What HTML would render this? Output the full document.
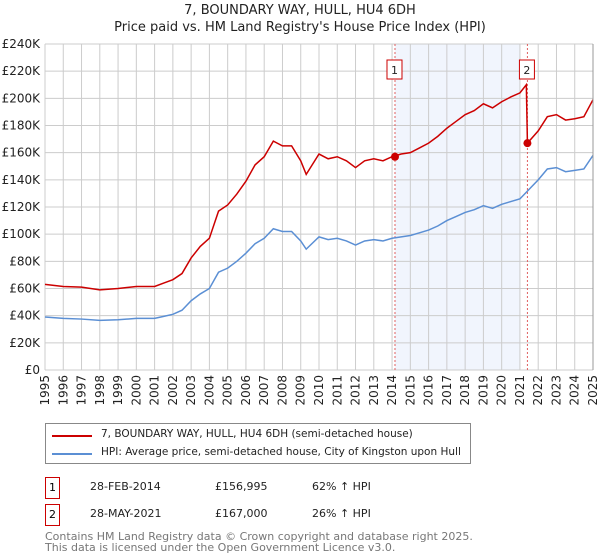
<!DOCTYPE html>
<html><head><meta charset="utf-8"><style>
body{margin:0;background:#fff;font-family:"DejaVu Sans","Liberation Sans",sans-serif;}
.t{position:absolute;font-size:12px;color:#222;white-space:nowrap}
</style></head><body>
<div style="position:relative;width:600px;height:560px;overflow:hidden">
<div class="t" style="left:0;width:600px;text-align:center;top:2px;font-size:13px;line-height:17px">7, BOUNDARY WAY, HULL, HU4 6DH<br>Price paid vs. HM Land Registry's House Price Index (HPI)</div>
<svg id="c" width="600" height="420" style="position:absolute;left:0;top:0"></svg>
<div style="position:absolute;left:45px;top:423px;width:424px;height:39px;border:1px solid #888">
 <div style="position:absolute;left:6px;top:11px;width:40px;height:2px;background:#cc0000"></div>
 <div class="t" style="left:55px;top:4px;font-size:10.5px">7, BOUNDARY WAY, HULL, HU4 6DH (semi-detached house)</div>
 <div style="position:absolute;left:6px;top:29px;width:40px;height:2px;background:#5b8fd4"></div>
 <div class="t" style="left:55px;top:22px;font-size:10.5px">HPI: Average price, semi-detached house, City of Kingston upon Hull</div>
</div>
<div style="position:absolute;left:45px;top:477px;width:13px;height:20px;border:1px solid #cc0000;font-size:11px;text-align:center;line-height:20px">1</div>
<div class="t" style="left:90px;top:480px;font-size:11px">28-FEB-2014</div>
<div class="t" style="left:215px;top:480px;font-size:11px">£156,995</div>
<div class="t" style="left:312px;top:480px;font-size:11px">62% ↑ HPI</div>
<div style="position:absolute;left:45px;top:504px;width:13px;height:20px;border:1px solid #cc0000;font-size:11px;text-align:center;line-height:20px">2</div>
<div class="t" style="left:90px;top:507px;font-size:11px">28-MAY-2021</div>
<div class="t" style="left:215px;top:507px;font-size:11px">£167,000</div>
<div class="t" style="left:312px;top:507px;font-size:11px">26% ↑ HPI</div>
<div class="t" style="left:45px;top:531px;font-size:11px;color:#777;line-height:11px">Contains HM Land Registry data © Crown copyright and database right 2025.<br>This data is licensed under the Open Government Licence v3.0.</div>
</div>
<script>
const hpiYears=[1995,1996,1997,1998,1999,2000,2001,2001.5,2002,2002.5,2003,2003.5,2004,2004.5,2005,2005.5,2006,2006.5,2007,2007.5,2008,2008.5,2009,2009.3,2010,2010.5,2011,2011.5,2012,2012.5,2013,2013.5,2014,2014.5,2015,2015.5,2016,2016.5,2017,2017.5,2018,2018.5,2019,2019.5,2020,2020.5,2021,2021.5,2022,2022.5,2023,2023.5,2024,2024.5,2025];
const hpiValues=[39,38,37.5,36.5,37,38,38,39.5,41,44,51,56,60,72,75,80,86,93,97,104,102,102,95,89,98,96,97,95,92,95,96,95,97,98,99,101,103,106,110,113,116,118,121,119,122,124,126,133,140,148,149,146,147,148,158];
const priceYears=[1995,1996,1997,1998,1999,2000,2001,2001.5,2002,2002.5,2003,2003.5,2004,2004.5,2005,2005.5,2006,2006.5,2007,2007.5,2008,2008.5,2009,2009.3,2010,2010.5,2011,2011.5,2012,2012.5,2013,2013.5,2014,2014.5,2015,2015.5,2016,2016.5,2017,2017.5,2018,2018.5,2019,2019.5,2020,2020.5,2021,2021.35,2021.41,2022,2022.5,2023,2023.5,2024,2024.5,2025];
const priceValues=[63,61.5,61,59,60,61.5,61.5,64,66.5,71,82.5,91,97,117,121.5,129.5,139,151,157,168.5,165,165,154,144,159,155.5,157,154,149,154,155.5,154,157,159,160,163.5,167,172,178,183,188,191,196,193,197.5,201,204,210,167,176,186.5,188,184,185,186.5,199];
const saleYears=[2014.16,2021.41];
const saleValues=[156.995,167];
const saleLabels=["1","2"];
const yTicks=[0,20,40,60,80,100,120,140,160,180,200,220,240];
const xTicks=[1995,1996,1997,1998,1999,2000,2001,2002,2003,2004,2005,2006,2007,2008,2009,2010,2011,2012,2013,2014,2015,2016,2017,2018,2019,2020,2021,2022,2023,2024,2025];
const L=45,R=593,T=44,B=370;
const X=y=>L+(y-1995)/30*(R-L), Y=v=>B-v/240*(B-T);
const svg=document.getElementById('c'),NS='http://www.w3.org/2000/svg';
function mk(tag,a,p){const e=document.createElementNS(NS,tag);for(const k in a)e.setAttribute(k,a[k]);(p||svg).appendChild(e);return e;}
const sh=mk('rect',{x:X(saleYears[0]),y:T,width:X(2021)-X(saleYears[0]),height:B-T,fill:'#eef3fc',opacity:0.8});


yTicks.forEach(v=>{const g=mk('line',{x1:L,x2:R,y1:Y(v),y2:Y(v),stroke:'#ccc'});


const t=mk('text',{x:L-5,y:Y(v)+4,'text-anchor':'end','font-size':12,fill:'#222','font-family':'DejaVu Sans, sans-serif'});t.textContent=v===0?'£0':'£'+v+'K';

});
xTicks.forEach(y=>{const g=mk('line',{x1:X(y),x2:X(y),y1:T,y2:B,stroke:'#ccc'});


const t=mk('text',{x:0,y:0,'text-anchor':'end','font-size':12,fill:'#222','font-family':'DejaVu Sans, sans-serif',transform:`translate(${X(y)+4},${B+5}) rotate(-90)`});t.textContent=y;

});
saleYears.forEach((s,i)=>{const l=mk('line',{x1:X(s),x2:X(s),y1:T,y2:B,stroke:'#e06060','stroke-dasharray':'2,2'});

});
const p1=mk('polyline',{points:hpiYears.map((y,i)=>X(y)+','+Y(hpiValues[i])).join(' '),fill:'none',stroke:'#5b8fd4','stroke-width':1.5});


const p2=mk('polyline',{points:priceYears.map((y,i)=>X(y)+','+Y(priceValues[i])).join(' '),fill:'none',stroke:'#cc0000','stroke-width':1.5});


saleYears.forEach((s,i)=>{const c=mk('circle',{cx:X(s),cy:Y(saleValues[i]),r:4,fill:'#cc0000'});


const bx=X(s)-7;const r=mk('rect',{x:bx-1,y:60,width:15,height:19,fill:'#fff',stroke:'#cc0000'});


const t=mk('text',{x:bx+6.5,y:74,'text-anchor':'middle','font-size':11,fill:'#222','font-family':'DejaVu Sans, sans-serif'});t.textContent=saleLabels[i];

});
const ax=mk('line',{x1:R,x2:R,y1:T,y2:B,stroke:'#999'});


</script>
</body></html>
